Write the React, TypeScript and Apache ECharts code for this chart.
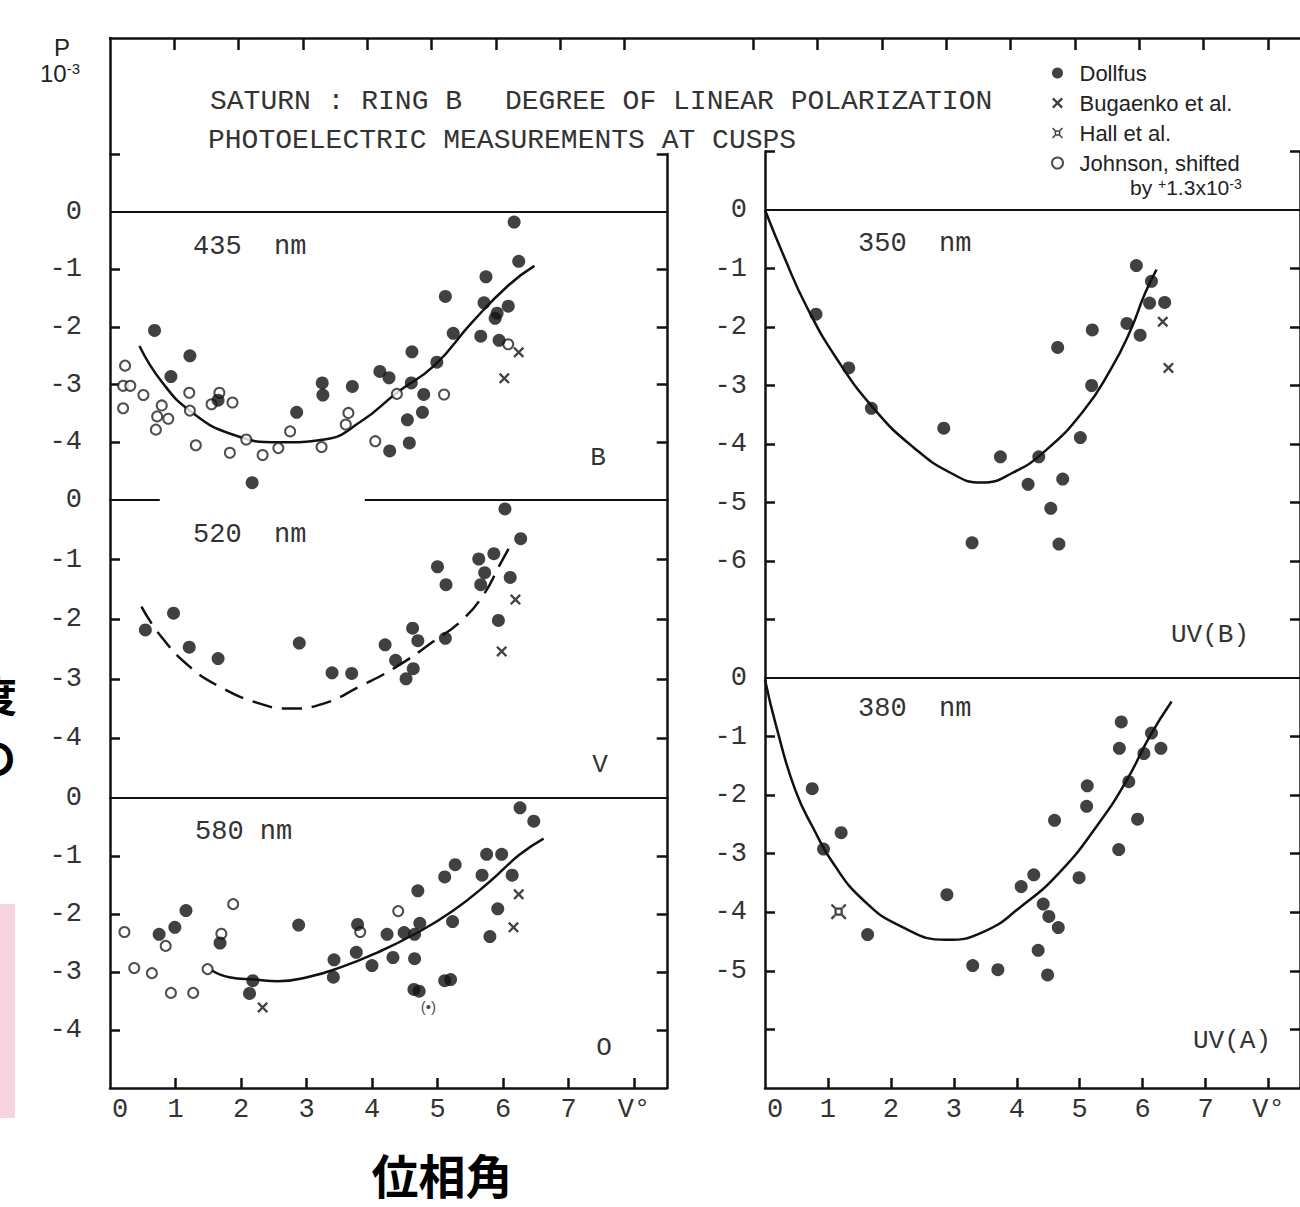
import React, { useEffect, useRef } from "react";
import * as echarts from "echarts";

// ---------- data (phase angle V in degrees, P in 1e-3) ----------
const xLabelValues = [0, 1, 2, 3, 4, 5, 6, 7, 8];
const xTickValues = [1, 2, 3, 4, 5, 6, 7, 8];
const topTickValues = [1, 2, 3, 4, 5, 6, 7, 8, 10, 11, 12, 13, 14, 15, 16, 17, 18];

// 435 nm (B)
const dollfus435 = [
  [0.68, -2.06], [1.22, -2.5], [0.93, -2.86], [1.65, -3.27], [2.17, -4.7], [2.85, -3.48],
  [3.24, -2.97], [3.25, -3.18], [3.7, -3.03], [4.12, -2.77], [4.26, -2.88], [4.61, -2.43],
  [4.6, -2.97], [4.79, -3.17], [4.77, -3.48], [4.54, -3.61], [4.57, -4.01], [4.27, -4.15],
  [4.99, -2.61], [5.24, -2.11], [5.12, -1.47], [5.66, -2.16], [5.74, -1.13], [5.71, -1.58],
  [5.88, -1.85], [5.94, -2.23], [6.08, -1.64], [6.17, -0.18], [6.24, -0.86], [5.91, -1.76],
];
const johnson435 = [
  [0.23, -2.67], [0.2, -3.02], [0.31, -3.02], [0.2, -3.41], [0.51, -3.18], [0.79, -3.36],
  [0.72, -3.55], [0.89, -3.59], [0.7, -3.78], [1.21, -3.14], [1.22, -3.45], [1.31, -4.05],
  [1.55, -3.34], [1.67, -3.14], [1.87, -3.31], [1.83, -4.18], [2.08, -3.95], [2.33, -4.22],
  [2.57, -4.1], [2.75, -3.81], [3.23, -4.08], [3.64, -3.49], [3.6, -3.69], [4.05, -3.98],
  [4.38, -3.16], [5.1, -3.17], [6.08, -2.3],
];
const bugaenko435 = [[6.24, -2.44], [6.02, -2.89]];
const curve435 = [
  [0.45, -2.33], [0.79, -2.95], [1.24, -3.47], [1.86, -3.86], [2.59, -4.0], [3.27, -3.95],
  [3.83, -3.64], [4.39, -3.13], [4.95, -2.67], [5.52, -1.93], [6.08, -1.28], [6.48, -0.94],
];

// 520 nm (V)
const dollfus520 = [
  [0.54, -2.18], [0.97, -1.9], [1.21, -2.47], [1.65, -2.66], [2.89, -2.4], [3.39, -2.9],
  [3.69, -2.91], [4.2, -2.43], [4.36, -2.69], [4.62, -2.15], [4.7, -2.36], [4.63, -2.83],
  [4.52, -3.0], [5.0, -1.12], [5.13, -1.42], [5.12, -2.32], [5.63, -0.99], [5.86, -0.9],
  [5.72, -1.22], [5.66, -1.42], [6.03, -0.15], [6.27, -0.65], [6.11, -1.3], [5.93, -2.02],
];
const bugaenko520 = [[6.19, -1.67], [5.98, -2.54]];
const curve520 = [
  [0.48, -1.79], [0.78, -2.29], [1.22, -2.8], [1.67, -3.13], [2.24, -3.4], [2.74, -3.5],
  [3.25, -3.42], [3.81, -3.13], [4.37, -2.8], [4.93, -2.38], [5.38, -2.01], [5.72, -1.56],
  [5.94, -1.11], [6.12, -0.75],
];

// 580 nm (O)
const dollfus580 = [
  [0.75, -2.35], [0.99, -2.23], [1.16, -1.94], [1.68, -2.5], [2.88, -2.19], [2.18, -3.15],
  [2.13, -3.37], [3.42, -2.79], [3.41, -3.09], [3.76, -2.66], [3.78, -2.18], [4.0, -2.89],
  [4.23, -2.35], [4.32, -2.75], [4.49, -2.32], [4.65, -2.77], [4.65, -2.35], [4.73, -2.16],
  [4.7, -1.6], [4.64, -3.3], [4.72, -3.33], [5.11, -3.15], [5.2, -3.13], [5.11, -1.36],
  [5.27, -1.15], [5.23, -2.13], [5.68, -1.33], [5.75, -0.97], [5.98, -0.97], [6.14, -1.33],
  [5.92, -1.91], [5.8, -2.39], [6.26, -0.17], [6.47, -0.4],
];
const johnson580 = [
  [0.22, -2.31], [0.37, -2.93], [0.64, -3.02], [0.85, -2.55], [0.93, -3.36], [1.27, -3.36],
  [1.49, -2.95], [1.7, -2.34], [1.88, -1.83], [3.82, -2.31], [4.4, -1.95],
];
const bugaenko580 = [[2.33, -3.61], [6.24, -1.66], [6.16, -2.23]];
const note580 = [[4.86, -3.6]];
const curve580 = [
  [1.55, -2.97], [1.82, -3.09], [2.22, -3.13], [2.56, -3.16], [3.01, -3.09], [3.52, -2.92],
  [4.09, -2.66], [4.66, -2.34], [5.23, -1.95], [5.8, -1.44], [6.25, -0.98], [6.62, -0.7],
];

// 350 nm (UV(B))
const dollfus350 = [
  [0.81, -1.78], [1.33, -2.7], [1.69, -3.39], [2.84, -3.73], [3.29, -5.69], [3.74, -4.22],
  [4.18, -4.69], [4.35, -4.22], [4.54, -5.1], [4.73, -4.6], [4.67, -5.71], [4.65, -2.35],
  [5.01, -3.89], [5.19, -3.0], [5.2, -2.05], [5.75, -1.94], [5.96, -2.14], [5.9, -0.95],
  [6.14, -1.22], [6.11, -1.59], [6.35, -1.58],
];
const bugaenko350 = [[6.32, -1.91], [6.41, -2.7]];
const curve350 = [
  [0, 0], [0.3, -0.79], [0.66, -1.65], [1.15, -2.56], [1.75, -3.42], [2.35, -4.05],
  [2.96, -4.5], [3.44, -4.66], [3.92, -4.5], [4.47, -4.1], [5.07, -3.42], [5.49, -2.73],
  [5.79, -2.1], [6.04, -1.42], [6.22, -1.02],
];

// 380 nm (UV(A))
const dollfus380 = [
  [0.75, -1.89], [0.93, -2.92], [1.21, -2.64], [1.63, -4.38], [2.89, -3.7], [3.3, -4.91],
  [3.7, -4.98], [4.07, -3.56], [4.27, -3.36], [4.42, -3.86], [4.51, -4.07], [4.66, -4.26],
  [4.34, -4.65], [4.49, -5.07], [4.6, -2.43], [4.99, -3.41], [5.12, -1.84], [5.11, -2.19],
  [5.62, -2.93], [5.92, -2.41], [5.78, -1.77], [5.63, -1.2], [5.66, -0.75], [6.02, -1.29],
  [6.14, -0.94], [6.29, -1.2],
];
const hall380 = [[1.17, -3.99]];
const curve380 = [
  [0, -0.03], [0.18, -0.83], [0.48, -1.91], [0.78, -2.59], [1.08, -3.16], [1.56, -3.79],
  [2.16, -4.24], [2.88, -4.47], [3.48, -4.33], [4.07, -3.9], [4.67, -3.33], [5.27, -2.53],
  [5.75, -1.74], [6.11, -1.0], [6.46, -0.4],
];

// ---------- styles ----------
const INK = "#111";
const TEXT = "#333";
const MONO = "'Liberation Mono', 'DejaVu Sans Mono', monospace";
const SANS = "'Liberation Sans', Arial, sans-serif";
const CJK = "'Noto Sans CJK JP', sans-serif";
const CROSS = "path://M0,1.5L1.5,0L5,3.5L8.5,0L10,1.5L6.5,5L10,8.5L8.5,10L5,6.5L1.5,10L0,8.5L3.5,5Z";
const HALL =
  "path://M2.4,2.4L7.6,2.4L7.6,7.6L2.4,7.6Z M3.8,3.8L3.8,6.2L6.2,6.2L6.2,3.8Z M0,1L1,0L3.2,2.2L2.2,3.2Z M10,1L9,0L6.8,2.2L7.8,3.2Z M0,9L1,10L3.2,7.8L2.2,6.8Z M10,9L9,10L6.8,7.8L7.8,6.8Z";

const LX = 110;
const RX = 765;
const UX = 65.5;
const XMAX = 8.5;
const W = UX * XMAX;

function yPair(g: number, min: number, max: number, labels: number[], ticks: number[], margin: number) {
  const common = { type: "value", gridIndex: g, min, max, interval: 1, splitLine: { show: false } };
  const line = { show: true, onZero: false, lineStyle: { color: INK, width: 2.5 } };
  const tick = { show: true, inside: true, length: 10, lineStyle: { color: INK, width: 2.5 }, customValues: ticks };
  return [
    {
      ...common,
      position: "left",
      axisLine: line,
      axisTick: tick,
      axisLabel: {
        show: true,
        customValues: labels,
        margin,
        formatter: (v: number) => (labels.indexOf(v) >= 0 ? String(v) : ""),
        fontFamily: MONO,
        fontSize: 27,
        color: TEXT,
      },
    },
    { ...common, position: "right", axisLine: line, axisTick: tick, axisLabel: { show: false } },
  ];
}

function xHidden(g: number) {
  return { type: "value", gridIndex: g, min: 0, max: XMAX, interval: 1, show: false };
}
function xBottom(g: number) {
  return {
    type: "value",
    gridIndex: g,
    min: 0,
    max: XMAX,
    interval: 1,
    position: "bottom",
    splitLine: { show: false },
    axisLine: { show: true, onZero: false, lineStyle: { color: INK, width: 2.5 } },
    axisTick: { show: true, inside: true, length: 10, customValues: xTickValues, lineStyle: { color: INK, width: 2.5 } },
    axisLabel: {
      customValues: xLabelValues,
      margin: 8,
      fontFamily: MONO,
      fontSize: 27,
      color: TEXT,
      formatter: (v: number) => (v === 8 ? "V°" : v === 0 ? "{z|0}" : xLabelValues.indexOf(v) >= 0 ? String(v) : ""),
      rich: { z: { padding: [0, 0, 0, 20], fontFamily: MONO, fontSize: 27, color: TEXT } },
    },
  };
}

function curve(name: string, g: number, data: number[][], dashed: boolean, zeroLine: any) {
  return {
    type: "line",
    name,
    xAxisIndex: g,
    yAxisIndex: g * 2,
    data,
    smooth: 0.5,
    showSymbol: false,
    symbol: "none",
    z: 2,
    lineStyle: { color: INK, width: 2.5, type: dashed ? [20, 10] : "solid" },
    markLine: {
      silent: true,
      symbol: "none",
      label: { show: false },
      lineStyle: { color: INK, width: 2.2, type: "solid" },
      data: zeroLine,
    },
  };
}

function pts(name: string, g: number, data: number[][], kind: string) {
  const base: any = { type: "scatter", name, xAxisIndex: g, yAxisIndex: g * 2, data, z: 3 };
  if (kind === "dollfus") {
    base.symbol = "circle";
    base.symbolSize = 13;
    base.itemStyle = { color: INK };
  } else if (kind === "johnson") {
    base.symbol = "circle";
    base.symbolSize = 10;
    base.itemStyle = { color: "#fff", borderColor: "#222", borderWidth: 2 };
  } else if (kind === "cross") {
    base.symbol = CROSS;
    base.symbolSize = 11;
    base.itemStyle = { color: INK };
  } else if (kind === "hall") {
    base.symbol = HALL;
    base.symbolSize = 16;
    base.itemStyle = { color: INK };
  }
  return base;
}

function txt(text: string, x: number, y: number, size: number, opts: any = {}) {
  const style: any = {
    text,
    fill: opts.fill || TEXT,
    font: `${opts.weight || "normal"} ${size}px ${opts.family || MONO}`,
    textAlign: opts.align || "left",
    textVerticalAlign: "middle",
  };
  if (opts.rich) style.rich = opts.rich;
  if (opts.lineHeight) style.lineHeight = opts.lineHeight;
  return { type: "text", x, y, silent: true, z: 10, style };
}

const fullZero = [{ yAxis: 0 }];
const gapZero = [
  [{ coord: [0, 0] }, { coord: [0.76, 0] }],
  [{ coord: [3.89, 0] }, { coord: [XMAX, 0] }],
];

export default function App() {
  const ref = useRef<HTMLDivElement>(null);
  useEffect(() => {
    document.body.style.margin = "0";
    if (!ref.current) return;
    const chart = echarts.init(ref.current, undefined, { renderer: "svg" });
    const option: any = {
      animation: false,
      backgroundColor: "#fff",
      grid: [
        { left: LX, top: 154, width: W, height: 346 },
        { left: LX, top: 500, width: W, height: 298 },
        { left: LX, top: 798, width: W, height: 290 },
        { left: RX, top: 151.5, width: W, height: 526.5 },
        { left: RX, top: 678, width: W, height: 410 },
        { left: LX, top: 38, width: UX * 18.5, height: 116 },
      ],
      xAxis: [
        xHidden(0),
        xHidden(1),
        xBottom(2),
        xHidden(3),
        xBottom(4),
        {
          type: "value",
          gridIndex: 5,
          min: 0,
          max: 18.5,
          interval: 1,
          position: "top",
          splitLine: { show: false },
          axisLine: { show: true, onZero: false, lineStyle: { color: INK, width: 2.5 } },
          axisTick: { show: true, inside: true, length: 12, customValues: topTickValues, lineStyle: { color: INK, width: 2.5 } },
          axisLabel: { show: false },
        },
      ],
      yAxis: [
        ...yPair(0, -5, 1, [0, -1, -2, -3, -4], [1, -1, -2, -3, -4], 28),
        ...yPair(1, -5, 0, [0, -1, -2, -3, -4], [-1, -2, -3, -4], 28),
        ...yPair(2, -5, 0, [0, -1, -2, -3, -4], [-1, -2, -3, -4], 28),
        ...yPair(3, -8, 1, [0, -1, -2, -3, -4, -5, -6], [1, -1, -2, -3, -4, -5, -6, -7], 18),
        ...yPair(4, -7, 0, [0, -1, -2, -3, -4, -5], [-1, -2, -3, -4, -5, -6], 18),
        {
          type: "value",
          gridIndex: 5,
          min: 0,
          max: 1,
          position: "left",
          splitLine: { show: false },
          axisLine: { show: true, onZero: false, lineStyle: { color: INK, width: 2.5 } },
          axisTick: { show: false },
          axisLabel: { show: false },
        },
      ],
      legend: {
        orient: "vertical",
        left: 1046,
        top: 57,
        itemWidth: 34,
        itemHeight: 11,
        itemGap: 8,
        symbolKeepAspect: true,
        selectedMode: false,
        textStyle: { fontFamily: SANS, fontSize: 22, color: "#222", lineHeight: 22 },
        data: [
          { name: "Dollfus", icon: "circle", itemStyle: { color: INK } },
          { name: "Bugaenko et al.", icon: CROSS, itemStyle: { color: INK } },
          { name: "Hall et al.", icon: HALL, itemStyle: { color: INK } },
          { name: "Johnson, shifted", icon: "circle", itemStyle: { color: "#fff", borderColor: "#222", borderWidth: 2 } },
        ],
      },
      graphic: [
        { type: "rect", shape: { x: 0, y: 904, width: 15, height: 214 }, style: { fill: "#f7d5e0" }, silent: true },
        txt("P", 62, 47, 24, { family: SANS, align: "center", fill: "#222" }),
        txt("10{sup|-3}", 40, 73, 24, {
          family: SANS,
          fill: "#222",
          rich: { sup: { fontSize: 15, fontFamily: SANS, fill: "#222", verticalAlign: "top" } },
        }),
        txt("SATURN : RING B", 210, 101, 28),
        txt("DEGREE OF LINEAR POLARIZATION", 505, 101, 28),
        txt("PHOTOELECTRIC MEASUREMENTS AT CUSPS", 208, 140, 28),
        txt("435  nm", 193, 247, 27),
        txt("520  nm", 193, 535, 27),
        txt("580 nm", 195, 832, 27),
        txt("350  nm", 858, 244, 27),
        txt("380  nm", 858, 709, 27),
        txt("B", 598, 458, 26, { align: "center" }),
        txt("V", 600, 765, 26, { align: "center" }),
        txt("O", 604, 1048, 26, { align: "center" }),
        txt("UV(B)", 1210, 635, 26, { align: "center" }),
        txt("UV(A)", 1232, 1041, 26, { align: "center" }),
        txt("by {sup|+}1.3x10{sup|-3}", 1130, 187, 21, {
          family: SANS,
          fill: "#222",
          rich: { sup: { fontSize: 14, fontFamily: SANS, fill: "#222", verticalAlign: "top" } },
        }),
        txt("位相角", 442, 1173, 47, { family: CJK, weight: "bold", align: "center", fill: "#000" }),
        txt("度", 17, 693, 42, { family: CJK, weight: "bold", align: "right", fill: "#000" }),
        txt("の", 16, 755, 42, { family: CJK, weight: "bold", align: "right", fill: "#000" }),
      ],
      series: [
        curve("fit 435 nm", 0, curve435, false, fullZero),
        pts("Johnson, shifted", 0, johnson435, "johnson"),
        pts("Dollfus", 0, dollfus435, "dollfus"),
        pts("Bugaenko et al.", 0, bugaenko435, "cross"),

        curve("fit 520 nm", 1, curve520, true, gapZero),
        pts("Dollfus", 1, dollfus520, "dollfus"),
        pts("Bugaenko et al.", 1, bugaenko520, "cross"),

        curve("fit 580 nm", 2, curve580, false, fullZero),
        pts("Johnson, shifted", 2, johnson580, "johnson"),
        pts("Dollfus", 2, dollfus580, "dollfus"),
        pts("Bugaenko et al.", 2, bugaenko580, "cross"),
        {
          type: "scatter",
          name: "note",
          xAxisIndex: 2,
          yAxisIndex: 4,
          data: note580,
          symbolSize: 1,
          itemStyle: { color: "rgba(0,0,0,0)" },
          label: { show: true, position: "inside", formatter: "(•)", fontSize: 15, color: INK, fontFamily: SANS },
          z: 4,
        },

        curve("fit 350 nm", 3, curve350, false, fullZero),
        pts("Dollfus", 3, dollfus350, "dollfus"),
        pts("Bugaenko et al.", 3, bugaenko350, "cross"),

        curve("fit 380 nm", 4, curve380, false, fullZero),
        pts("Dollfus", 4, dollfus380, "dollfus"),
        pts("Hall et al.", 4, hall380, "hall"),
      ],
    };
    chart.setOption(option);
    return () => chart.dispose();
  }, []);
  return <div ref={ref} style={{ width: 1300, height: 1207 }} />;
}
